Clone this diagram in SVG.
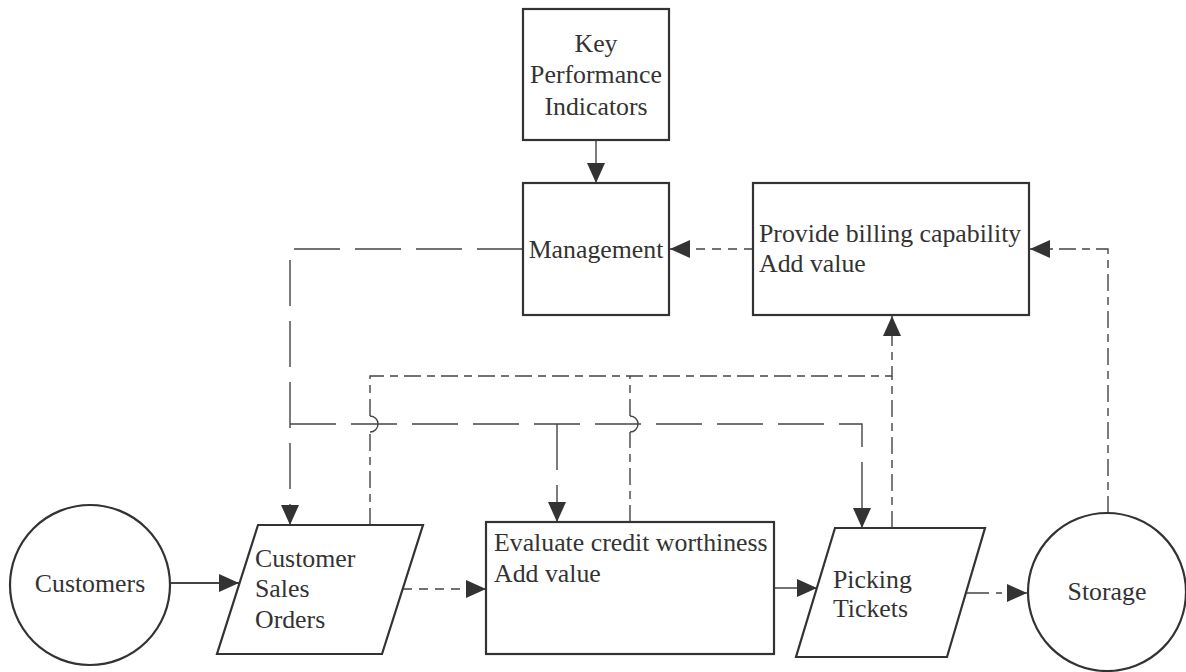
<svg xmlns="http://www.w3.org/2000/svg" width="1186" height="672" viewBox="0 0 1186 672">
  <style>
    .shape { fill: #ffffff; stroke: #333333; stroke-width: 2.2; }
    .label { font-family: "Liberation Serif", "Times New Roman", serif; font-size: 25.8px; fill: #333333; }
    .mid { text-anchor: middle; }
    .conn { fill: none; stroke: #444444; stroke-width: 1.4; }
    .thick { stroke-width: 2.2; }
    .long { stroke-dasharray: 46 15; }
    .short { stroke-dasharray: 9 7; }
    .dashdot { stroke-dasharray: 17 6 8 6; }
  </style>
  <defs>
    <marker id="arrow" markerUnits="userSpaceOnUse" markerWidth="22" markerHeight="20" refX="20" refY="9" orient="auto">
      <path d="M0,0 L20,9 L0,18 z" fill="#333333"/>
    </marker>
  </defs>

  <rect width="1186" height="672" fill="#ffffff"/>

  <!-- connectors -->
  <g id="connectors">
    <!-- KPI to Management -->
    <path class="conn" d="M596,140 V183" marker-end="url(#arrow)"/>
    <!-- billing back to Management -->
    <path class="conn short" d="M753,249 H670" marker-end="url(#arrow)"/>
    <!-- Storage up to billing -->
    <path class="conn dashdot" d="M1108,513 V249 H1030" marker-end="url(#arrow)"/>
    <!-- Management down to sales orders, with branches -->
    <path class="conn long" d="M523,249 H290 V525" marker-end="url(#arrow)"/>
    <path class="conn long" d="M290,424 H862 V528" marker-end="url(#arrow)"/>
    <path class="conn long" d="M557,424 V522" marker-end="url(#arrow)"/>
    <!-- sales orders / evaluation / picking up to billing -->
    <path class="conn dashdot" d="M370,525 V432"/>
    <path class="conn dashdot" d="M370,416 V376 H892 V316" marker-end="url(#arrow)"/>
    <path class="conn dashdot" d="M630,522 V432"/>
    <path class="conn dashdot" d="M630,416 V376"/>
    <path class="conn dashdot" d="M892,528 V376"/>
    <!-- line hops over the branch line -->
    <path class="conn" d="M370,432 A8,8 0 0 0 370,416"/>
    <path class="conn" d="M630,432 A8,8 0 0 0 630,416"/>
    <!-- main flow -->
    <path class="conn thick" d="M171,583 H239" marker-end="url(#arrow)"/>
    <path class="conn short" d="M403,589 H486" marker-end="url(#arrow)"/>
    <path class="conn" d="M774,588 H817" marker-end="url(#arrow)"/>
    <path class="conn" style="stroke-dasharray: 23 7 6 7" d="M966,593 H1027" marker-end="url(#arrow)"/>
  </g>

  <!-- nodes -->
  <g id="kpi">
    <rect class="shape" x="523" y="9" width="146" height="131"/>
    <text class="label mid" x="596" y="52">Key</text>
    <text class="label mid" x="596" y="83">Performance</text>
    <text class="label mid" x="596" y="115">Indicators</text>
  </g>

  <g id="management">
    <rect class="shape" x="523" y="183" width="146" height="132"/>
    <text class="label mid" x="596" y="258">Management</text>
  </g>

  <g id="billing">
    <rect class="shape" x="753" y="183" width="276" height="132"/>
    <text class="label" x="759" y="242">Provide billing capability</text>
    <text class="label" x="759" y="272">Add value</text>
  </g>

  <g id="customers">
    <circle class="shape" cx="90" cy="585" r="80"/>
    <text class="label mid" x="90" y="592">Customers</text>
  </g>

  <g id="sales-orders">
    <polygon class="shape" points="258,525 423,525 382,654 217,654"/>
    <text class="label" x="255" y="567">Customer</text>
    <text class="label" x="255" y="597">Sales</text>
    <text class="label" x="255" y="628">Orders</text>
  </g>

  <g id="evaluate">
    <rect class="shape" x="486" y="522" width="288" height="132"/>
    <text class="label" x="494" y="551">Evaluate credit worthiness</text>
    <text class="label" x="494" y="582">Add value</text>
  </g>

  <g id="picking-tickets">
    <polygon class="shape" points="835,528 985,528 947,657 796,657"/>
    <text class="label" x="833" y="588">Picking</text>
    <text class="label" x="833" y="617">Tickets</text>
  </g>

  <g id="storage">
    <circle class="shape" cx="1107" cy="592" r="79"/>
    <text class="label mid" x="1107" y="600">Storage</text>
  </g>
</svg>
